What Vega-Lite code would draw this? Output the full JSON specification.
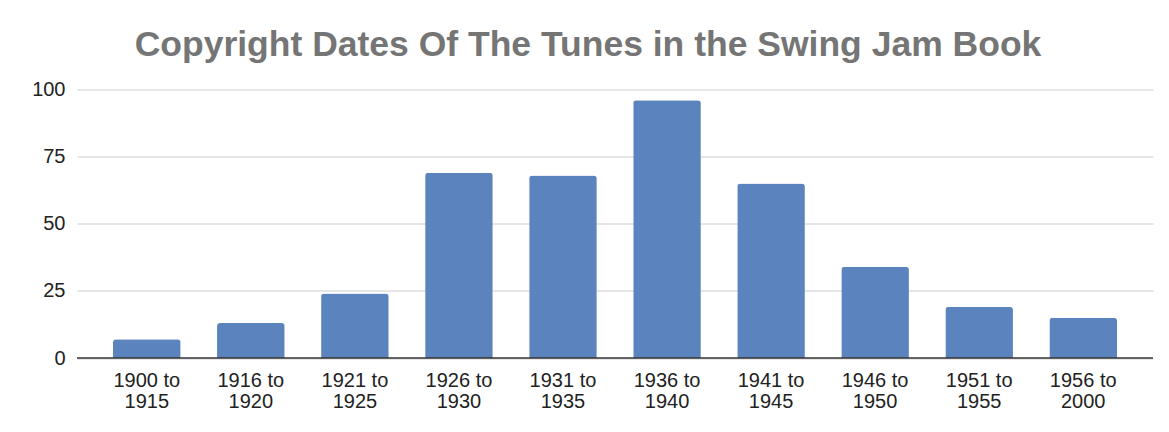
{
  "$schema": "https://vega.github.io/schema/vega-lite/v6.json",
  "width": 1076,
  "height": 268.5,
  "autosize": "none",
  "padding": {"left": 77, "top": 89.5, "right": 16, "bottom": 74},
  "background": "white",
  "title": {
    "text": "Copyright Dates Of The Tunes in the Swing Jam Book",
    "font": "Liberation Sans",
    "fontSize": 35.5,
    "fontWeight": "bold",
    "color": "#757575",
    "anchor": "middle",
    "frame": "group",
    "baseline": "alphabetic",
    "offset": -12,
    "dx": -27
  },
  "data": {
    "values": [
      {"range": "1900 to 1915", "count": 7},
      {"range": "1916 to 1920", "count": 13},
      {"range": "1921 to 1925", "count": 24},
      {"range": "1926 to 1930", "count": 69},
      {"range": "1931 to 1935", "count": 68},
      {"range": "1936 to 1940", "count": 96},
      {"range": "1941 to 1945", "count": 65},
      {"range": "1946 to 1950", "count": 34},
      {"range": "1951 to 1955", "count": 19},
      {"range": "1956 to 2000", "count": 15}
    ]
  },
  "config": {
    "view": {"stroke": null},
    "font": "Liberation Sans"
  },
  "layer": [
    {
      "mark": {"type": "bar", "color": "#5b83be", "cornerRadiusTopLeft": 3, "cornerRadiusTopRight": 3},
      "encoding": {
        "x": {
          "field": "range",
          "type": "nominal",
          "sort": null,
          "scale": {"paddingInner": 0.35, "paddingOuter": 0.346},
          "axis": {
            "title": null,
            "labelAngle": 0,
            "labelFont": "Liberation Sans",
            "labelFontSize": 20,
            "labelColor": "#222222",
            "labelLineHeight": 21,
            "labelPadding": 12,
            "labelExpr": "[substring(datum.label,0,7), substring(datum.label,8)]",
            "ticks": false,
            "domain": false,
            "grid": false
          }
        },
        "y": {
          "field": "count",
          "type": "quantitative",
          "scale": {"domain": [0, 100]},
          "axis": {
            "title": null,
            "values": [0, 25, 50, 75, 100],
            "labelFont": "Liberation Sans",
            "labelFontSize": 20,
            "labelColor": "#222222",
            "labelPadding": 12,
            "ticks": false,
            "domain": false,
            "gridColor": "#cccccc",
            "gridWidth": 1
          }
        }
      }
    },
    {
      "data": {"values": [{"v": 0}]},
      "mark": {"type": "rule", "color": "#333333", "strokeWidth": 1.5},
      "encoding": {
        "y": {"field": "v", "type": "quantitative"}
      }
    }
  ]
}
